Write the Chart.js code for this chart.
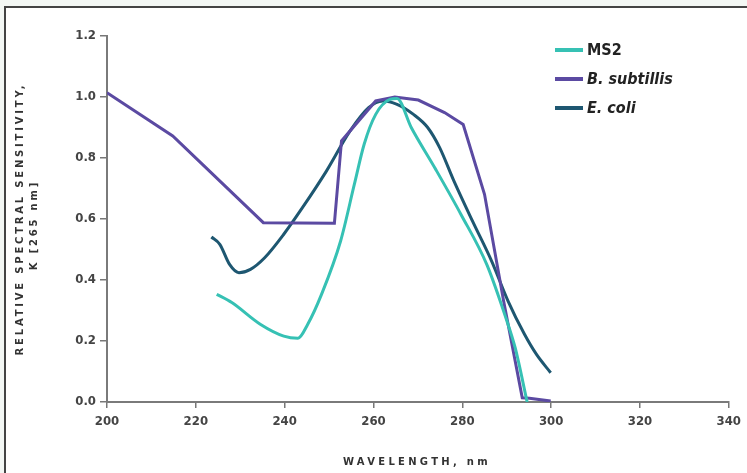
<!DOCTYPE html>
<html>
<head>
<meta charset="utf-8">
<script src="https://cdn.jsdelivr.net/npm/chart.js"></script>
<style>
  html, body { margin: 0; padding: 0; }
  body { background: #f3f7f4; width: 747px; height: 473px; position: relative; overflow: hidden; }
  #frame {
    position: absolute; left: 4px; top: 6px; right: -10px; bottom: -10px;
    background: #fff; border-left: 2px solid #444; border-top: 2px solid #444;
  }
  #chart { position: absolute; left: 0; top: 0; }
</style>
</head>
<body>
<div id="frame"></div>
<canvas id="chart" width="747" height="473"></canvas>
<script>
// wavelengths (nm) and relative sensitivities
const seriesNames = ['MS2', 'B. subtillis', 'E. coli'];

const ms2Wavelength = [224.7, 228.1, 234.5, 239.8, 243.0, 245.2, 248.3, 252.6, 255.7, 257.9, 260.5, 263.7, 265.3, 268.5, 273.8, 279.7, 285.5, 289.8, 291.9, 294.6];
const ms2Sensitivity = [0.353, 0.326, 0.255, 0.216, 0.209, 0.255, 0.353, 0.528, 0.714, 0.845, 0.943, 0.992, 0.995, 0.900, 0.768, 0.615, 0.451, 0.276, 0.178, 0.0];

const bsWavelength = [200, 214.8, 235.2, 251.2, 252.8, 260.5, 264.8, 270.1, 276.0, 280.2, 285.0, 289.3, 293.5, 295.1, 299.9];
const bsSensitivity = [1.014, 0.872, 0.588, 0.586, 0.856, 0.987, 1.0, 0.99, 0.949, 0.910, 0.681, 0.331, 0.014, 0.012, 0.003];

const ecWavelength = [223.5, 225.4, 227.6, 229.7, 232.3, 235.5, 239.8, 244.0, 249.4, 254.7, 258.9, 262.1, 265.3, 269.0, 272.2, 274.9, 278.1, 282.3, 286.6, 290.3, 294.0, 296.7, 299.9];
const ecSensitivity = [0.541, 0.517, 0.451, 0.424, 0.435, 0.473, 0.550, 0.637, 0.757, 0.888, 0.965, 0.987, 0.976, 0.943, 0.900, 0.834, 0.725, 0.593, 0.462, 0.331, 0.222, 0.156, 0.096];

const xTicks = [200, 220, 240, 260, 280, 300, 320, 340];
const yTicks = [0, 0.2, 0.4, 0.6, 0.8, 1.0, 1.2];

const colors = ['#36c1b4', '#5b4aa2', '#1e5771'];
const tickFont = { family: "'Liberation Sans Narrow', 'DejaVu Sans Condensed', sans-serif", size: 13, weight: 'bold' };

const toPoints = (xs, ys) => xs.map((x, i) => ({ x: x, y: ys[i] }));

const legendAndTitles = {
  id: 'legendAndTitles',
  afterDraw(chart) {
    const ctx = chart.ctx;
    ctx.save();
    // legend
    chart.data.datasets.forEach((ds, i) => {
      const y = 50 + i * 29;
      ctx.strokeStyle = ds.borderColor;
      ctx.lineWidth = 4;
      ctx.beginPath();
      ctx.moveTo(555, y);
      ctx.lineTo(583, y);
      ctx.stroke();
      ctx.fillStyle = '#222';
      ctx.font = (i > 0 ? 'italic ' : '') + "bold 16px 'Liberation Sans Narrow', 'DejaVu Sans Condensed', sans-serif";
      ctx.textAlign = 'left';
      ctx.textBaseline = 'middle';
      ctx.fillText(ds.label, 587, y + 1);
    });
    // axis titles
    ctx.fillStyle = '#333';
    ctx.font = "bold 10px 'DejaVu Sans', sans-serif";
    ctx.textAlign = 'center';
    ctx.textBaseline = 'middle';
    ctx.letterSpacing = '3.3px';
    ctx.fillText('WAVELENGTH, nm', 417, 462);
    ctx.letterSpacing = '2.8px';
    ctx.translate(20, 219);
    ctx.rotate(-Math.PI / 2);
    ctx.fillText('RELATIVE SPECTRAL SENSITIVITY,', 0, 0);
    ctx.fillText('K [265 nm]', -6, 14);
    ctx.restore();
  }
};

new Chart(document.getElementById('chart'), {
  type: 'line',
  data: {
    datasets: [
      { label: seriesNames[0], data: toPoints(ms2Wavelength, ms2Sensitivity), borderColor: colors[0], cubicInterpolationMode: 'monotone' },
      { label: seriesNames[1], data: toPoints(bsWavelength, bsSensitivity), borderColor: colors[1], tension: 0 },
      { label: seriesNames[2], data: toPoints(ecWavelength, ecSensitivity), borderColor: colors[2], cubicInterpolationMode: 'monotone' }
    ]
  },
  options: {
    responsive: false,
    animation: false,
    devicePixelRatio: 1,
    layout: { padding: { left: 0, top: 36, right: 10, bottom: 0 } },
    elements: { point: { radius: 0 }, line: { borderWidth: 3, fill: false } },
    plugins: { legend: { display: false }, tooltip: { enabled: false } },
    scales: {
      x: {
        type: 'linear',
        min: xTicks[0],
        max: xTicks[xTicks.length - 1],
        afterBuildTicks: s => { s.ticks = xTicks.map(v => ({ value: v })); },
        afterFit: s => { s.height = 71; },
        ticks: { font: tickFont, color: '#444', padding: 6, maxRotation: 0 },
        grid: { drawOnChartArea: false, tickLength: 6, color: '#777', lineWidth: 1.5 },
        border: { color: '#7a7a7a', width: 2 }
      },
      y: {
        min: yTicks[0],
        max: yTicks[yTicks.length - 1],
        afterBuildTicks: s => { s.ticks = yTicks.map(v => ({ value: v })); },
        afterFit: s => { s.width = 107; },
        ticks: { font: tickFont, color: '#444', padding: 4, callback: v => v.toFixed(1) },
        grid: { drawOnChartArea: false, tickLength: 7, color: '#777', lineWidth: 1.5 },
        border: { color: '#7a7a7a', width: 2 }
      }
    }
  },
  plugins: [legendAndTitles]
});
</script>
</body>
</html>
